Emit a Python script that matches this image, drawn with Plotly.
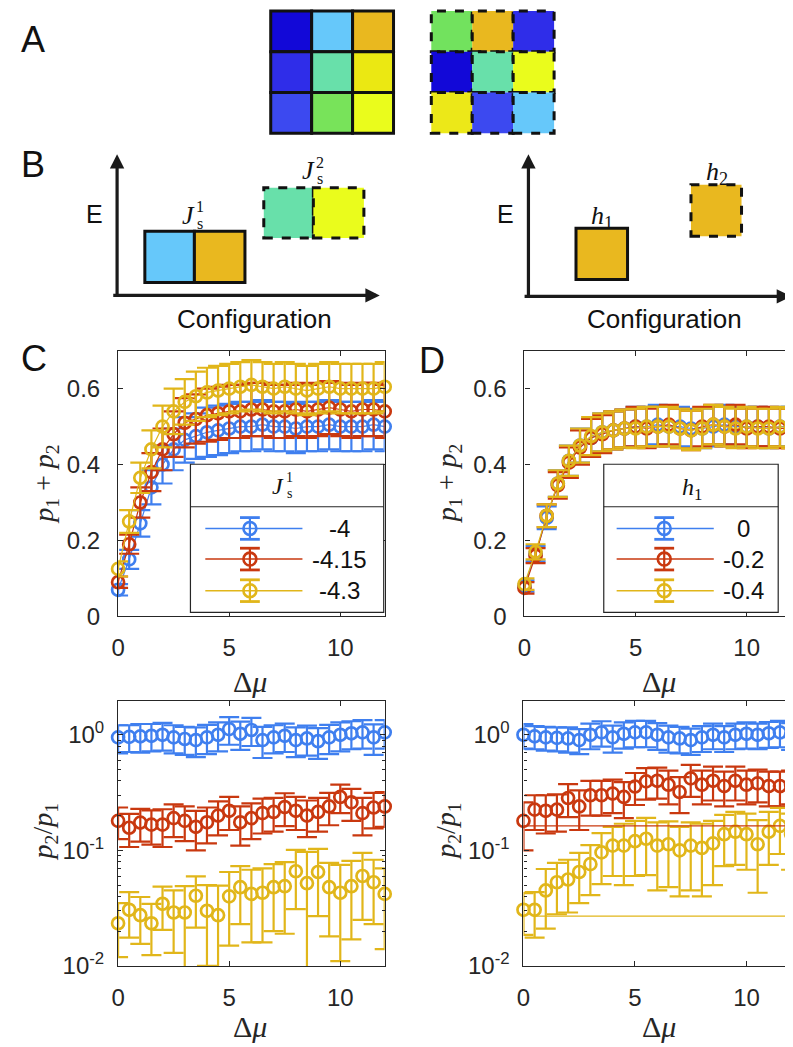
import plotly.graph_objects as go

W, H = 793, 1047

# ---------------- data ----------------
dmu = [0, 0.5, 1, 1.5, 2, 2.5, 3, 3.5, 4, 4.5, 5, 5.5, 6, 6.5, 7, 7.5, 8, 8.5, 9, 9.5, 10, 10.5, 11, 11.5, 12]

# panel C: p1 + p2 for J_s^1 = -4, -4.15, -4.3
c_sum_a = [0.07, 0.15, 0.245, 0.34, 0.40, 0.44, 0.465, 0.475, 0.485, 0.49, 0.495, 0.50, 0.50, 0.505, 0.50,
           0.50, 0.495, 0.50, 0.50, 0.505, 0.50, 0.50, 0.50, 0.505, 0.50]
c_sum_a_err = [0.015, 0.025, 0.035, 0.045, 0.05, 0.055, 0.06, 0.06, 0.065, 0.065, 0.065, 0.065, 0.065, 0.065, 0.065,
               0.065, 0.065, 0.065, 0.065, 0.065, 0.065, 0.065, 0.065, 0.065, 0.065]
c_sum_b = [0.09, 0.19, 0.30, 0.38, 0.44, 0.48, 0.51, 0.52, 0.53, 0.535, 0.54, 0.54, 0.545, 0.545, 0.54,
           0.54, 0.545, 0.54, 0.545, 0.55, 0.545, 0.54, 0.545, 0.545, 0.54]
c_sum_b_err = [0.015, 0.025, 0.04, 0.05, 0.055, 0.06, 0.065, 0.065, 0.07, 0.07, 0.07, 0.07, 0.07, 0.07, 0.07,
               0.07, 0.07, 0.07, 0.07, 0.07, 0.07, 0.07, 0.07, 0.07, 0.07]
c_sum_c = [0.125, 0.25, 0.365, 0.44, 0.50, 0.54, 0.565, 0.58, 0.59, 0.595, 0.60, 0.605, 0.61, 0.605, 0.60,
           0.605, 0.60, 0.595, 0.60, 0.605, 0.60, 0.60, 0.60, 0.60, 0.605]
c_sum_c_err = [0.02, 0.03, 0.04, 0.05, 0.055, 0.06, 0.06, 0.065, 0.065, 0.065, 0.065, 0.065, 0.065, 0.065, 0.065,
               0.065, 0.065, 0.065, 0.065, 0.065, 0.065, 0.065, 0.065, 0.065, 0.065]

# panel C: p2 / p1
c_ratio_a = [0.95, 0.96, 0.97, 0.98, 1.0, 0.95, 0.92, 0.9, 0.95, 1.0, 1.12, 1.02, 1.1, 0.9, 0.95,
             0.98, 0.9, 0.93, 0.88, 0.95, 1.0, 1.03, 1.05, 0.95, 1.05]
c_ratio_a_err = [0.26, 0.25, 0.27, 0.26, 0.27, 0.26, 0.25, 0.26, 0.27, 0.28, 0.3, 0.28, 0.3, 0.27, 0.26,
                 0.27, 0.26, 0.27, 0.26, 0.27, 0.28, 0.28, 0.29, 0.28, 0.29]
c_ratio_b = [0.18, 0.157, 0.174, 0.167, 0.167, 0.19, 0.18, 0.16, 0.175, 0.20, 0.22, 0.175, 0.19, 0.21, 0.215,
             0.237, 0.22, 0.20, 0.215, 0.24, 0.29, 0.26, 0.21, 0.235, 0.24]
c_ratio_b_err = [0.055, 0.05, 0.055, 0.055, 0.06, 0.06, 0.06, 0.06, 0.06, 0.065, 0.07, 0.065, 0.065, 0.07, 0.07,
                 0.075, 0.07, 0.07, 0.07, 0.075, 0.08, 0.08, 0.075, 0.08, 0.08]
c_ratio_c = [0.0234, 0.0306, 0.0275, 0.0234, 0.0345, 0.029, 0.029, 0.0405, 0.030, 0.0275, 0.040, 0.048, 0.042, 0.043,
             0.048, 0.049, 0.066, 0.052, 0.065, 0.048, 0.043, 0.049, 0.060, 0.053, 0.042]
c_ratio_c_err = [0.0115, 0.013, 0.012, 0.011, 0.014, 0.016, 0.02, 0.019, 0.02, 0.022, 0.025, 0.025, 0.026, 0.027,
                 0.028, 0.03, 0.035, 0.045, 0.038, 0.03, 0.032, 0.032, 0.035, 0.03, 0.028]

# panel D: p1 + p2 for h1 = 0, -0.2, -0.4
d_sum_a = [0.08, 0.165, 0.26, 0.35, 0.41, 0.45, 0.47, 0.485, 0.49, 0.495, 0.50, 0.50, 0.505, 0.50, 0.50,
           0.495, 0.495, 0.50, 0.505, 0.50, 0.50, 0.50, 0.495, 0.50, 0.50]
d_sum_b = [0.075, 0.16, 0.265, 0.345, 0.405, 0.445, 0.47, 0.48, 0.49, 0.495, 0.50, 0.495, 0.50, 0.505, 0.495,
           0.49, 0.50, 0.505, 0.50, 0.505, 0.495, 0.50, 0.50, 0.495, 0.495]
d_sum_c = [0.085, 0.17, 0.265, 0.35, 0.41, 0.45, 0.475, 0.485, 0.49, 0.495, 0.495, 0.50, 0.50, 0.50, 0.495,
           0.49, 0.495, 0.505, 0.50, 0.495, 0.50, 0.495, 0.495, 0.50, 0.495]
d_sum_err = [0.015, 0.02, 0.03, 0.035, 0.04, 0.045, 0.05, 0.05, 0.05, 0.05, 0.052, 0.052, 0.052, 0.052, 0.052,
             0.052, 0.052, 0.052, 0.052, 0.052, 0.052, 0.052, 0.052, 0.052, 0.052]

# panel D: p2 / p1
d_ratio_a = [1.0, 0.97, 0.95, 0.94, 0.93, 0.9, 1.0, 1.05, 0.95, 1.02, 1.05, 1.05, 1.0, 0.95, 0.93,
             0.9, 0.95, 1.0, 0.95, 1.0, 1.02, 1.0, 1.03, 1.05, 1.0]
d_ratio_a_err = [0.24, 0.22, 0.22, 0.22, 0.23, 0.22, 0.25, 0.26, 0.25, 0.26, 0.27, 0.27, 0.26, 0.25, 0.24,
                 0.23, 0.24, 0.25, 0.24, 0.25, 0.26, 0.25, 0.26, 0.27, 0.26]
d_ratio_b = [0.18, 0.225, 0.22, 0.225, 0.284, 0.24, 0.30, 0.30, 0.31, 0.29, 0.357, 0.395, 0.40, 0.37, 0.32,
             0.42, 0.37, 0.40, 0.36, 0.40, 0.37, 0.38, 0.36, 0.36, 0.37]
d_ratio_b_err = [0.08, 0.075, 0.08, 0.08, 0.09, 0.09, 0.1, 0.1, 0.1, 0.1, 0.11, 0.12, 0.12, 0.12, 0.11,
                 0.13, 0.12, 0.13, 0.12, 0.13, 0.12, 0.12, 0.12, 0.12, 0.12]
d_ratio_c = [0.0306, 0.0306, 0.045, 0.053, 0.056, 0.065, 0.076, 0.096, 0.11, 0.11, 0.12, 0.126, 0.11, 0.113, 0.10,
             0.11, 0.105, 0.115, 0.138, 0.145, 0.138, 0.113, 0.145, 0.163, 0.138]
d_ratio_c_err = [0.012, 0.013, 0.024, 0.025, 0.027, 0.03, 0.035, 0.045, 0.05, 0.06, 0.06, 0.065, 0.065, 0.065, 0.06,
                 0.065, 0.065, 0.065, 0.065, 0.07, 0.07, 0.07, 0.07, 0.07, 0.07]
d_ratio_b_flat = 0.163   # stray horizontal line in panel D (h1 = -0.2)
d_ratio_c_flat = 0.027   # stray horizontal line in panel D (h1 = -0.4)
d_ratio_c_flat_x = [0.5, 12]

legend_c = ["-4", "-4.15", "-4.3"]
legend_d = ["0", "-0.2", "-0.4"]

# panel A cell colours (rows top to bottom)
grid_solid = [["#1208d8", "#66c8fa", "#e9b81f"],
              ["#2f2de9", "#68e0aa", "#ebe812"],
              ["#3c49f0", "#78e35a", "#eafc1c"]]
grid_dashed = [["#72e25e", "#e9b81f", "#2f2de9"],
               ["#1208d8", "#68e0aa", "#eafc1c"],
               ["#ece818", "#3c49f0", "#66c8fa"]]

BLUE, RED, YELLOW = "#3f7fef", "#c9380f", "#e1b61a"
INK = "#262626"
SANS = "Liberation Sans, Arial, sans-serif"
SERIF = "Liberation Serif, DejaVu Serif, serif"


def X(p):
    return p / W


def Y(p):
    return 1 - p / H


fig = go.Figure()


def add_series(xa, ya, y, err, color, line=True):
    fig.add_trace(go.Scatter(
        x=dmu, y=y, mode="lines", xaxis=xa, yaxis=ya, hoverinfo="skip",
        line=dict(color=color, width=1.2 if line else 0),
        error_y=dict(type="data", array=err, color=color, thickness=2.2, width=10),
    ))
    fig.add_trace(go.Scatter(
        x=dmu, y=y, mode="markers", xaxis=xa, yaxis=ya, cliponaxis=False,
        marker=dict(symbol="circle-open", size=12, color=color, line=dict(width=2.7, color=color)),
    ))


add_series("x", "y", c_sum_a, c_sum_a_err, BLUE)
add_series("x", "y", c_sum_b, c_sum_b_err, RED)
add_series("x", "y", c_sum_c, c_sum_c_err, YELLOW)

add_series("x2", "y2", d_sum_a, d_sum_err, BLUE)
add_series("x2", "y2", d_sum_b, d_sum_err, RED)
add_series("x2", "y2", d_sum_c, d_sum_err, YELLOW)

add_series("x3", "y3", c_ratio_a, c_ratio_a_err, BLUE, line=False)
add_series("x3", "y3", c_ratio_b, c_ratio_b_err, RED, line=False)
add_series("x3", "y3", c_ratio_c, c_ratio_c_err, YELLOW, line=False)

add_series("x4", "y4", d_ratio_a, d_ratio_a_err, BLUE, line=False)
add_series("x4", "y4", d_ratio_b, d_ratio_b_err, RED, line=False)
add_series("x4", "y4", d_ratio_c, d_ratio_c_err, YELLOW, line=False)
fig.add_trace(go.Scatter(x=[dmu[0], dmu[-1]], y=[d_ratio_b_flat] * 2, mode="lines", xaxis="x4", yaxis="y4",
                         line=dict(color=RED, width=1.2), hoverinfo="skip"))
fig.add_trace(go.Scatter(x=d_ratio_c_flat_x, y=[d_ratio_c_flat] * 2, mode="lines", xaxis="x4", yaxis="y4",
                         line=dict(color=YELLOW, width=1.2), hoverinfo="skip"))

# ---------------- axes ----------------
ax = dict(showline=True, linecolor=INK, linewidth=1.2, mirror="ticks", ticks="inside", ticklen=5,
          tickcolor=INK, tickwidth=1, showgrid=False, zeroline=False,
          tickfont=dict(family=SANS, size=24, color=INK))
xax = dict(ax, range=[0, 12], tickvals=[0, 5, 10], ticklabelstandoff=10)
minor_log = [k * 10 ** e for e in (-2, -1, 0) for k in range(2, 10)]
logax = dict(ax, type="log", range=[-2, 0.29], tickvals=[0.01, 0.1, 1],
             ticktext=["10<sup>-2</sup>", "10<sup>-1</sup>", "10<sup>0</sup>"], ticklabelstandoff=8,
             minor=dict(ticks="inside", ticklen=3, tickcolor=INK, tickvals=minor_log))
linax = dict(ax, range=[0, 0.7], tickvals=[0, 0.2, 0.4, 0.6], ticktext=["0", "0.2", "0.4", "0.6"],
             ticklabelstandoff=12)

fig.update_layout(
    width=W, height=H, margin=dict(l=0, r=0, t=0, b=0),
    paper_bgcolor="white", plot_bgcolor="white", showlegend=False,
    xaxis=dict(xax, domain=[X(104), X(373)], anchor="y"),
    yaxis=dict(linax, domain=[Y(616), Y(347)], anchor="x"),
    xaxis2=dict(xax, domain=[X(514), X(783)], anchor="y2"),
    yaxis2=dict(linax, domain=[Y(616), Y(347)], anchor="x2"),
    xaxis3=dict(xax, domain=[X(104), X(373)], anchor="y3"),
    yaxis3=dict(logax, domain=[Y(970), Y(702)], anchor="x3"),
    xaxis4=dict(xax, domain=[X(513), X(783)], anchor="y4"),
    yaxis4=dict(logax, domain=[Y(970), Y(702)], anchor="x4"),
)

shapes = []
ann = []


def text(x, y, s, size=22, family=SANS, color="#111", angle=0, xanchor="center"):
    ann.append(dict(x=X(x), y=Y(y), xref="paper", yref="paper", text=s, showarrow=False,
                    xanchor=xanchor, yanchor="middle", textangle=angle,
                    font=dict(family=family, size=size, color=color)))


def rect(x0, y0, x1, y1, fill, dash="solid", width=3, layer="above"):
    shapes.append(dict(type="rect", xref="paper", yref="paper", x0=X(x0), x1=X(x1), y0=Y(y1), y1=Y(y0),
                       fillcolor=fill, line=dict(color="#111", width=width, dash=dash), layer=layer))


def line(x0, y0, x1, y1, color, width=1.5):
    shapes.append(dict(type="line", xref="paper", yref="paper", x0=X(x0), x1=X(x1), y0=Y(y0), y1=Y(y1),
                       line=dict(color=color, width=width), layer="above"))


# ---------------- panel A ----------------
def grid(colors, left, top, size, dash):
    for r, row in enumerate(colors):
        for c, col in enumerate(row):
            rect(left + c * size, top + r * size, left + (c + 1) * size, top + (r + 1) * size, col, dash)


grid(grid_solid, 258, 3, 41.3, "solid")
grid(grid_dashed, 420, 3, 41.3, "dash")

# ---------------- panel B ----------------
rect(131, 226, 181, 278, grid_solid[0][1])
rect(181, 226, 232, 278, grid_solid[0][2])
rect(251, 182, 301, 233, grid_solid[1][1], "dash")
rect(301, 182, 352, 233, grid_solid[2][2], "dash")
rect(566, 223, 618, 275, grid_solid[0][2])
rect(682, 179, 733, 231, grid_solid[0][2], "dash")


def arrow(hx, hy, tx, ty):
    ann.append(dict(x=X(hx), y=Y(hy), xref="paper", yref="paper", ax=tx - hx, ay=ty - hy, text="",
                    showarrow=True, arrowhead=2, arrowsize=0.9, arrowwidth=3.2, arrowcolor="#1a1a1a"))


arrow(103, 148, 103, 292)
arrow(368, 291, 100, 291)
arrow(518, 148, 518, 293)
arrow(783, 292, 515, 292)

text(80, 209, "E", 25)
text(495, 209, "E", 25)
text(242, 315, "Configuration", 26)
text(655, 315, "Configuration", 26)


def js(x, y, k, size=24):
    text(x, y, "<i>J</i>", size, SERIF)
    text(x + 12, y - 9, k, int(size * 0.62), SERIF)
    text(x + 12, y + 8, "s", int(size * 0.62), SERIF)


js(175, 210, "1", 26)
js(296, 165, "2", 26)
text(592, 212, "<i>h</i><sub>1</sub>", 26, SERIF)
text(708, 167, "<i>h</i><sub>2</sub>", 26, SERIF)

# ---------------- panel labels ----------------
text(18, 32, "A", 36)
text(18, 158, "B", 36)
text(19, 355, "C", 36)
text(421, 357, "D", 36)

# ---------------- axis titles ----------------
for cx in (237, 650):
    text(cx, 682, "Δ<i>μ</i>", 30, SERIF, INK)
    text(cx, 1031, "Δ<i>μ</i>", 30, SERIF, INK)
for cx in (30, 437):
    text(cx, 482, "<i>p</i><sub>1</sub> + <i>p</i><sub>2</sub>", 28, SERIF, INK, angle=-90)
    text(cx, 834, "<i>p</i><sub>2</sub>/<i>p</i><sub>1</sub>", 28, SERIF, INK, angle=-90)


# ---------------- legends ----------------
def legend_box(x0, x1, lx0, lx1, mx, tx, labels):
    shapes.append(dict(type="rect", xref="paper", yref="paper", x0=X(x0), x1=X(x1), y0=Y(612), y1=Y(462),
                       fillcolor="white", line=dict(color=INK, width=1.2), layer="above"))
    line(x0, 505, x1, 505, INK, 1.2)
    for yy, col, lab in zip((527, 558, 590), (BLUE, RED, YELLOW), labels):
        line(lx0, yy, lx1, yy, col, 1.5)
        line(mx, yy - 11, mx, yy + 11, col, 2.2)
        line(mx - 10, yy - 11, mx + 10, yy - 11, col, 2.8)
        line(mx - 10, yy + 11, mx + 10, yy + 11, col, 2.8)
        shapes.append(dict(type="circle", xref="paper", yref="paper", x0=X(mx - 6.5), x1=X(mx + 6.5),
                           y0=Y(yy + 6.5), y1=Y(yy - 6.5), line=dict(color=col, width=2.6), layer="above"))
        text(tx, yy, lab, 24, SANS, "#111")


legend_box(177, 372, 192, 290, 237, 327, legend_c)
legend_box(594, 770, 607, 705, 655, 735, legend_d)
js(265, 484, "1", 24)
text(683, 487, "<i>h</i><sub>1</sub>", 24, SERIF)

fig.update_layout(shapes=shapes, annotations=ann)
fig.write_html("out.html")
